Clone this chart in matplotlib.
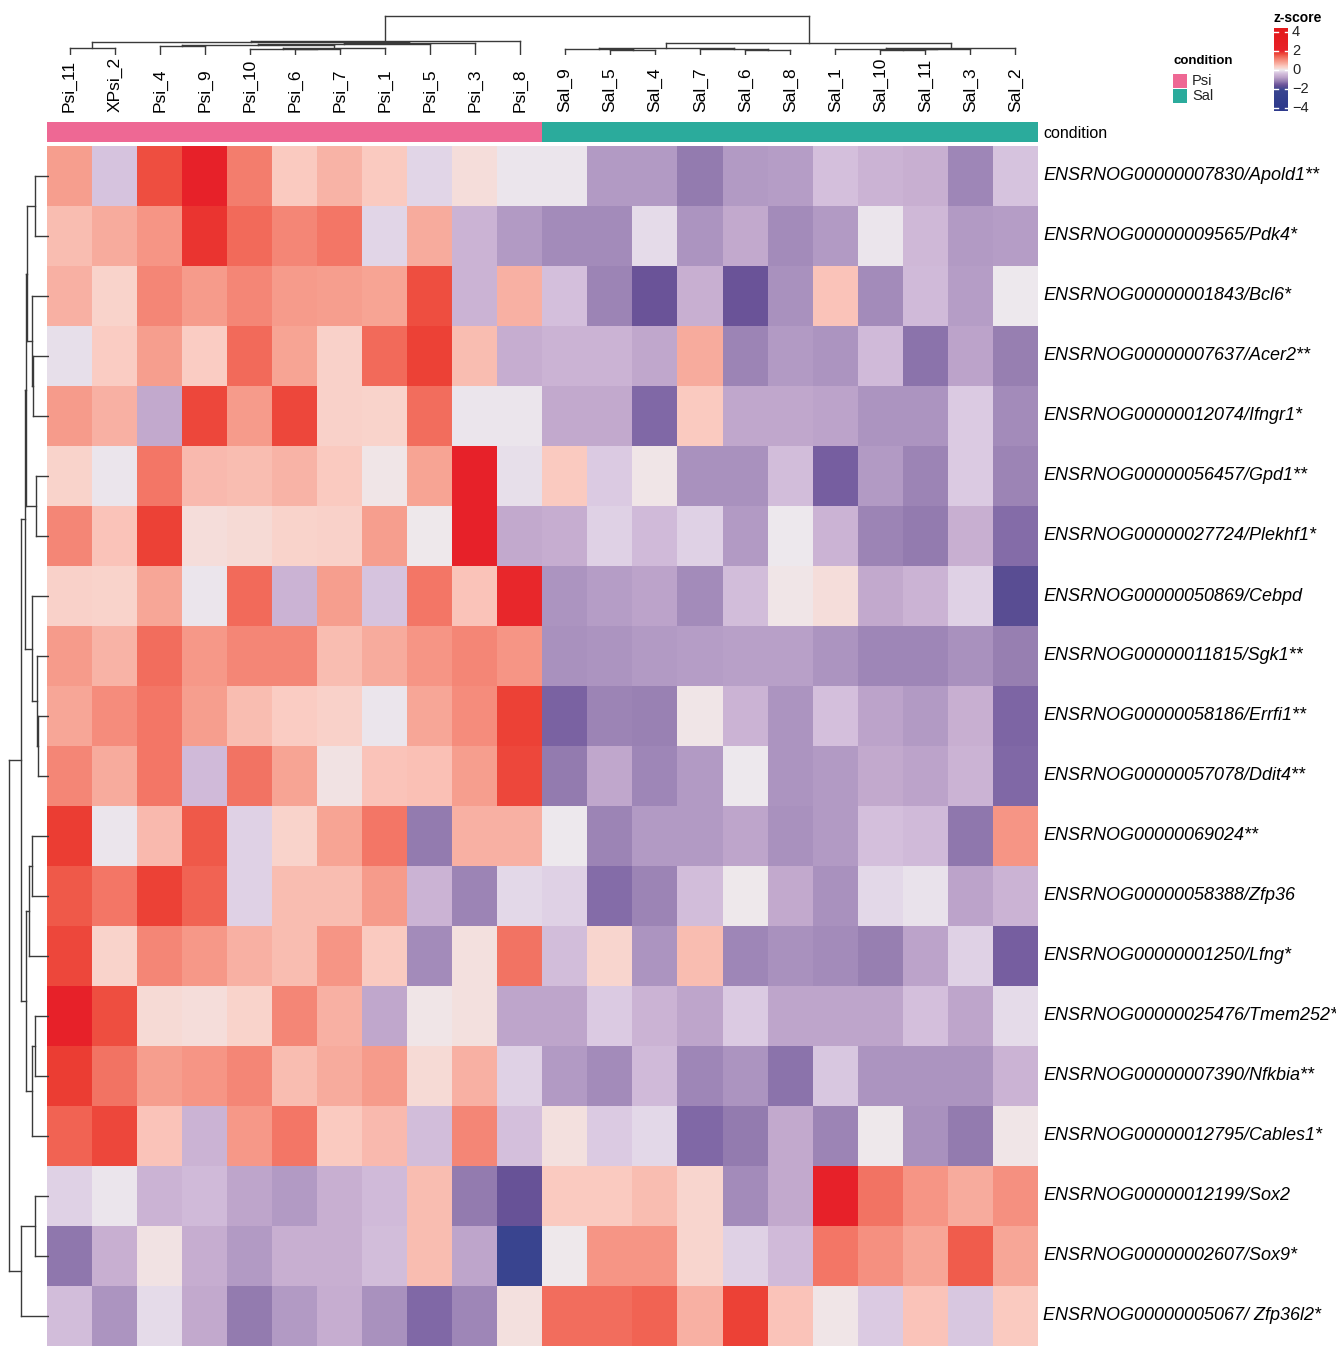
import numpy as np
import matplotlib.pyplot as plt
from matplotlib.colors import LinearSegmentedColormap, ListedColormap, Normalize

plt.rcParams['font.family'] = ['Liberation Sans', 'DejaVu Sans']

# samples in dendrogram order
samples = ['Psi_11', 'XPsi_2', 'Psi_4', 'Psi_9', 'Psi_10', 'Psi_6', 'Psi_7', 'Psi_1',
           'Psi_5', 'Psi_3', 'Psi_8',
           'Sal_9', 'Sal_5', 'Sal_4', 'Sal_7', 'Sal_6', 'Sal_8', 'Sal_1', 'Sal_10',
           'Sal_11', 'Sal_3', 'Sal_2']
condition = ['Psi'] * 11 + ['Sal'] * 11

genes = ['ENSRNOG00000007830/Apold1**', 'ENSRNOG00000009565/Pdk4*',
         'ENSRNOG00000001843/Bcl6*', 'ENSRNOG00000007637/Acer2**',
         'ENSRNOG00000012074/Ifngr1*', 'ENSRNOG00000056457/Gpd1**',
         'ENSRNOG00000027724/Plekhf1*', 'ENSRNOG00000050869/Cebpd',
         'ENSRNOG00000011815/Sgk1**', 'ENSRNOG00000058186/Errfi1**',
         'ENSRNOG00000057078/Ddit4**', 'ENSRNOG00000069024**',
         'ENSRNOG00000058388/Zfp36', 'ENSRNOG00000001250/Lfng*',
         'ENSRNOG00000025476/Tmem252*', 'ENSRNOG00000007390/Nfkbia**',
         'ENSRNOG00000012795/Cables1*', 'ENSRNOG00000012199/Sox2',
         'ENSRNOG00000002607/Sox9*', 'ENSRNOG00000005067/ Zfp36l2*']

# row z-scores, one row per gene, columns as in `samples`
zscores = np.array([
    [0.85, -0.35, 1.65, 2.0, 1.2, 0.4, 0.6, 0.4, -0.2, 0.15, -0.05,
     -0.05, -0.9, -0.9, -1.25, -0.9, -0.85, -0.4, -0.55, -0.6, -1.1, -0.35],
    [0.5, 0.7, 0.95, 1.85, 1.4, 1.1, 1.25, -0.2, 0.7, -0.55, -0.9,
     -1.05, -1.05, -0.15, -0.95, -0.7, -1.05, -0.9, -0.05, -0.5, -0.9, -0.85],
    [0.65, 0.25, 1.1, 0.9, 1.1, 0.9, 0.85, 0.8, 1.65, -0.55, 0.65,
     -0.4, -1.15, -1.6, -0.6, -1.6, -1.0, 0.45, -1.05, -0.45, -0.85, -0.03],
    [-0.1, 0.35, 0.85, 0.35, 1.4, 0.8, 0.3, 1.4, 1.75, 0.5, -0.65,
     -0.55, -0.55, -0.75, 0.7, -1.15, -0.9, -0.95, -0.45, -1.3, -0.8, -1.2],
    [0.9, 0.65, -0.7, 1.7, 0.9, 1.7, 0.3, 0.28, 1.35, -0.05, -0.05,
     -0.7, -0.7, -1.4, 0.38, -0.75, -0.75, -0.8, -0.95, -0.95, -0.3, -1.05],
    [0.28, -0.05, 1.25, 0.55, 0.5, 0.6, 0.4, 0.05, 0.8, 2.0, -0.1,
     0.38, -0.3, 0.05, -1.0, -1.0, -0.42, -1.5, -0.9, -1.15, -0.3, -1.15],
    [1.1, 0.45, 1.75, 0.15, 0.18, 0.25, 0.3, 0.85, 0.0, 2.0, -0.7,
     -0.65, -0.25, -0.45, -0.25, -0.9, -0.02, -0.55, -1.15, -1.25, -0.6, -1.35],
    [0.3, 0.25, 0.75, -0.05, 1.4, -0.55, 0.85, -0.35, 1.25, 0.45, 1.95,
     -0.95, -0.85, -0.8, -1.05, -0.42, 0.05, 0.15, -0.7, -0.55, -0.25, -1.8],
    [0.9, 0.6, 1.35, 0.92, 1.1, 1.1, 0.52, 0.7, 0.95, 1.1, 0.95,
     -1.0, -0.95, -0.9, -0.85, -0.82, -0.82, -0.95, -1.1, -1.1, -1.0, -1.2],
    [0.75, 1.05, 1.25, 0.85, 0.52, 0.35, 0.3, -0.05, 0.75, 1.05, 1.75,
     -1.45, -1.15, -1.18, 0.05, -0.55, -0.95, -0.4, -0.8, -0.9, -0.6, -1.42],
    [1.1, 0.7, 1.25, -0.45, 1.3, 0.8, 0.07, 0.45, 0.48, 0.85, 1.7,
     -1.25, -0.75, -1.1, -0.9, -0.03, -0.95, -0.9, -0.7, -0.8, -0.55, -1.4],
    [1.8, -0.05, 0.55, 1.55, -0.25, 0.28, 0.8, 1.25, -1.25, 0.65, 0.65,
     -0.03, -1.15, -0.9, -0.9, -0.78, -1.0, -0.9, -0.4, -0.45, -1.28, 0.95],
    [1.55, 1.25, 1.75, 1.45, -0.25, 0.5, 0.52, 0.9, -0.55, -1.15, -0.18,
     -0.25, -1.35, -1.15, -0.42, 0.03, -0.7, -1.0, -0.18, -0.07, -0.8, -0.55],
    [1.7, 0.28, 1.1, 0.92, 0.65, 0.5, 0.95, 0.38, -1.05, 0.1, 1.3,
     -0.42, 0.22, -0.95, 0.52, -1.12, -1.0, -1.05, -1.2, -0.8, -0.22, -1.5],
    [2.0, 1.65, 0.18, 0.15, 0.28, 1.1, 0.65, -0.75, 0.05, 0.12, -0.78,
     -0.78, -0.3, -0.55, -0.78, -0.3, -0.78, -0.78, -0.78, -0.4, -0.78, -0.15],
    [1.8, 1.3, 0.85, 0.95, 1.1, 0.52, 0.7, 0.9, 0.18, 0.65, -0.22,
     -0.9, -1.05, -0.45, -1.12, -0.95, -1.3, -0.32, -0.95, -0.95, -0.95, -0.55],
    [1.45, 1.7, 0.45, -0.55, 0.92, 1.25, 0.38, 0.55, -0.42, 1.1, -0.38,
     0.1, -0.3, -0.18, -1.4, -1.25, -0.7, -1.15, 0.0, -1.0, -1.25, 0.05],
    [-0.22, -0.05, -0.55, -0.45, -0.78, -0.9, -0.6, -0.45, 0.5, -1.25, -1.65,
     0.4, 0.4, 0.5, 0.22, -1.05, -0.7, 2.0, 1.3, 0.95, 0.7, 1.0],
    [-1.28, -0.6, 0.07, -0.65, -0.9, -0.6, -0.6, -0.42, 0.52, -0.78, -2.2,
     0.0, 0.95, 0.95, 0.22, -0.22, -0.45, 1.25, 1.0, 0.75, 1.5, 0.75],
    [-0.42, -0.95, -0.15, -0.7, -1.25, -0.9, -0.65, -1.0, -1.4, -1.1, 0.12,
     1.35, 1.35, 1.45, 0.65, 1.75, 0.45, 0.05, -0.3, 0.45, -0.32, 0.38],
])

# dendrograms: (child_a, child_b, height); ids >= n refer to earlier merges
col_merges = [(5, 6, 5.7), (4, 22, 6.4), (23, 7, 7.0), (0, 1, 7.3), (2, 3, 9.3),
              (26, 24, 10.0), (27, 8, 10.7), (28, 9, 12.2), (25, 29, 12.7),
              (30, 10, 14.0),
              (12, 13, 5.0), (11, 32, 5.7), (15, 16, 5.3), (14, 34, 6.0),
              (33, 35, 7.3), (18, 19, 5.5), (37, 20, 6.0), (17, 38, 6.5),
              (39, 21, 7.3), (36, 40, 11.7), (31, 41, 39.0)]
row_merges = [(0, 1, 14.0), (3, 4, 16.0), (2, 21, 17.5), (20, 22, 22.3),
              (5, 6, 13.3), (9, 10, 11.0), (8, 25, 12.0), (7, 26, 17.0),
              (23, 24, 23.0), (28, 27, 24.0), (11, 12, 17.3), (30, 13, 20.0),
              (14, 15, 14.0), (32, 16, 16.7), (31, 33, 23.0), (29, 34, 28.3),
              (17, 18, 14.0), (36, 19, 28.3), (35, 37, 40.0)]

z_stops = [-4.0, -2.1, -1.8, -1.6, -1.4, -1.2, -1.0, -0.8, -0.6, -0.4, -0.2, 0.0,
           0.2, 0.4, 0.6, 0.8, 1.0, 1.2, 1.4, 1.6, 1.8, 2.0, 4.0]
z_colors = ['#2e3a8c', '#3a4590', '#5a4e94', '#6c5499', '#8068a6', '#9880b2',
            '#a890be', '#bca3ca', '#c9b0d2', '#d4bfdc', '#e2d6e8', '#eeeaee',
            '#f8d8d2', '#fbcac0', '#f9b4a8', '#f7a494', '#f69282', '#f47e6e',
            '#f26a5a', '#ef5444', '#ec3e34', '#e8222a', '#e41a1c']
cond_colors = {'Psi': '#ee6894', 'Sal': '#2bab9c'}

cmap = LinearSegmentedColormap.from_list(
    'zs', [((z + 4) / 8, c) for z, c in zip(z_stops, z_colors)])
norm = Normalize(-4, 4)

W, H = 1336, 1348
fig = plt.figure(figsize=(W / 100, H / 100), dpi=100)


def px_axes(x0, y0, x1, y1):
    ax = fig.add_axes([x0 / W, 1 - y1 / H, (x1 - x0) / W, (y1 - y0) / H])
    ax.set_axis_off()
    return ax


def draw_dendro(ax, merges, n, top=True):
    pos = {i: i + 0.5 for i in range(n)}
    hgt = {i: 0.0 for i in range(n)}
    for k, (a, b, h) in enumerate(merges):
        xa, xb = pos[a], pos[b]
        for p, q, r, s in [(xa, hgt[a], xa, h), (xb, hgt[b], xb, h), (xa, h, xb, h)]:
            if top:
                ax.plot([p, r], [q, s], color='#3a3a3a', lw=1.0)
            else:
                ax.plot([q, s], [p, r], color='#3a3a3a', lw=1.0)
        pos[n + k] = (xa + xb) / 2
        hgt[n + k] = h


HM_L, HM_R, HM_T, HM_B = 47, 1038, 146, 1346
n_rows, n_cols = zscores.shape
col_w = (HM_R - HM_L) / n_cols
row_h = (HM_B - HM_T) / n_rows

# main heatmap
ax = px_axes(HM_L, HM_T, HM_R, HM_B)
ax.imshow(zscores, cmap=cmap, norm=norm, aspect='auto', interpolation='nearest',
          extent=(0, n_cols, n_rows, 0))

# condition annotation bar
ax_ann = px_axes(HM_L, 122, HM_R, 142)
codes = np.array([[0 if c == 'Psi' else 1 for c in condition]])
ax_ann.imshow(codes, cmap=ListedColormap([cond_colors['Psi'], cond_colors['Sal']]),
              aspect='auto', interpolation='nearest', extent=(0, n_cols, 1, 0))
fig.text(1043 / W, 1 - 133 / H, 'condition', fontsize=11.5, ha='left', va='center')

# column dendrogram
ax_cd = px_axes(HM_L, 14, HM_R, 55)
draw_dendro(ax_cd, col_merges, n_cols, top=True)
ax_cd.set_xlim(0, n_cols)
ax_cd.set_ylim(0, 41)

# row dendrogram
ax_rd = px_axes(5, HM_T, 49, HM_B)
draw_dendro(ax_rd, row_merges, n_rows, top=False)
ax_rd.set_ylim(n_rows, 0)
ax_rd.set_xlim(44, 0)

# sample names
for i, s in enumerate(samples):
    fig.text((HM_L + col_w * (i + 0.5)) / W, 1 - 112 / H, s, rotation=90,
             fontsize=12.5, ha='center', va='bottom')

# gene names
for i, g in enumerate(genes):
    fig.text(1043 / W, 1 - (HM_T + row_h * (i + 0.5)) / H, g, fontsize=13,
             style='italic', ha='left', va='center')

# condition legend
fig.text(1173 / W, 1 - 61 / H, 'condition', fontsize=9.5, fontweight='bold',
         ha='left', va='center')
for j, (lab, yc) in enumerate([('Psi', 81), ('Sal', 96)]):
    lg = px_axes(1173, yc - 7, 1187, yc + 7)
    lg.add_patch(plt.Rectangle((0, 0), 1, 1, color=cond_colors[lab]))
    fig.text(1192 / W, 1 - yc / H, lab, fontsize=10.5, ha='left', va='center',
             color='#222222')

# z-score colour key
fig.text(1273 / W, 1 - 18 / H, 'z\u2010score', fontsize=10, fontweight='bold',
         ha='left', va='center')
ax_cb = px_axes(1274, 28, 1288, 111)
grad = np.linspace(-4.35, 4.42, 200)[::-1].reshape(-1, 1)
ax_cb.imshow(grad, cmap=cmap, norm=norm, aspect='auto', extent=(0, 1, -4.35, 4.42))
ax_cb.set_xlim(0, 1)
ax_cb.set_ylim(-4.35, 4.42)
for t in [-4, -2, 0, 2, 4]:
    ax_cb.plot([0, 0.25], [t, t], color='white', lw=1)
    ax_cb.plot([0.75, 1], [t, t], color='white', lw=1)
    lab = str(t).replace('-', '\u2212')
    fig.text(1292 / W, 1 - (70 - 9.5 * t) / H, lab, fontsize=10.5, ha='left',
             va='center', color='#222222')

fig.savefig('out.png', dpi=100)
